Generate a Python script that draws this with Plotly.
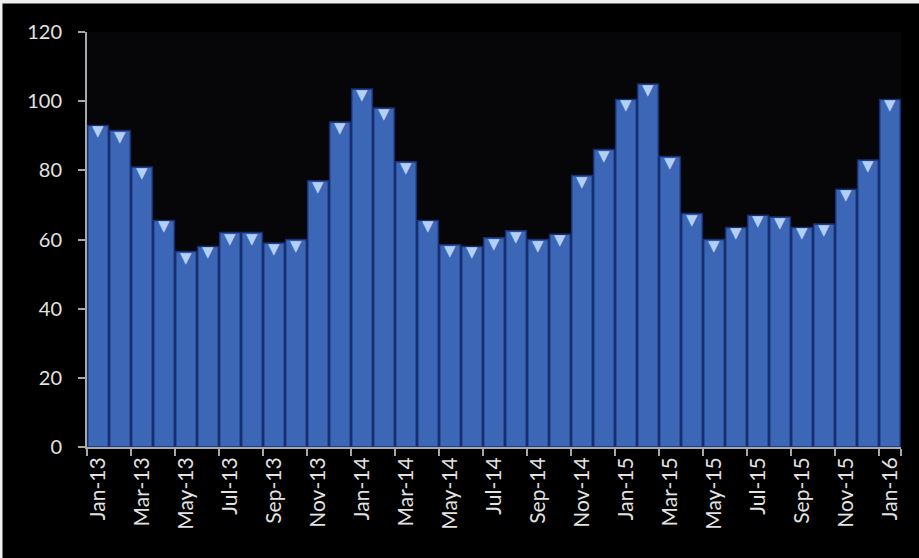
import plotly.graph_objects as go

months = ["Jan-13","Feb-13","Mar-13","Apr-13","May-13","Jun-13","Jul-13","Aug-13","Sep-13","Oct-13","Nov-13","Dec-13",
          "Jan-14","Feb-14","Mar-14","Apr-14","May-14","Jun-14","Jul-14","Aug-14","Sep-14","Oct-14","Nov-14","Dec-14",
          "Jan-15","Feb-15","Mar-15","Apr-15","May-15","Jun-15","Jul-15","Aug-15","Sep-15","Oct-15","Nov-15","Dec-15",
          "Jan-16"]
values = [93, 91.5, 81, 65.5, 56.5, 58, 62, 62, 59, 60, 77, 94,
          103.5, 98, 82.5, 65.5, 58.5, 58, 60.5, 62.5, 60, 61.5, 78.5, 86,
          100.5, 105, 84, 67.5, 60, 63.5, 67, 66.5, 63.5, 64.5, 74.5, 83,
          100.5]
y_ticks = [0, 20, 40, 60, 80, 100, 120]

FONT = "Lato, 'Open Sans', 'DejaVu Sans', sans-serif"
TXT = "#e2e2e2"
AX = "#a8a8a8"

fig = go.Figure()
fig.add_trace(go.Bar(
    x=months, y=values,
    marker=dict(color="#3c66b6", line=dict(color="#172f72", width=1.5)),
    hoverinfo="x+y",
))

# bevel highlight at the top of each bar
annotations = [
    dict(x=m, y=v, xref="x", yref="y", text="▼", showarrow=False,
         yanchor="top", yshift=4, borderpad=0,
         font=dict(family="DejaVu Sans", size=15, color="#b3cff4"))
    for m, v in zip(months, values)
]

fig.update_layout(
    width=919, height=558,
    margin=dict(l=87, r=18, t=32, b=111, pad=0),
    paper_bgcolor="#000000",
    plot_bgcolor="#060609",
    bargap=0.06,
    showlegend=False,
    font=dict(family=FONT, color=TXT, size=20),
    annotations=annotations,
    xaxis=dict(
        type="category",
        tickmode="array",
        tickvals=months[::2],
        ticktext=months[::2],
        tickangle=-90,
        ticks="outside", ticklen=7, tickcolor=AX, tickwidth=1.5,
        tickson="boundaries",
        showline=True, linecolor=AX, linewidth=2,
        showgrid=False, zeroline=False,
        tickfont=dict(family=FONT, color=TXT, size=21),
    ),
    yaxis=dict(
        range=[0, 120],
        tickvals=y_ticks,
        ticks="outside", ticklen=7, tickcolor=AX, tickwidth=1.5,
        showline=True, linecolor=AX, linewidth=2,
        showgrid=False, zeroline=False,
        tickfont=dict(family=FONT, color=TXT, size=20),
        ticklabelstandoff=12,
    ),
    shapes=[
        dict(type="line", xref="paper", yref="paper",
             x0=-87/814, x1=1 + 18/814, y0=1 + 30.5/415, y1=1 + 30.5/415,
             line=dict(color="#f0f0f0", width=4)),
        dict(type="line", xref="paper", yref="paper",
             x0=-86/814, x1=-86/814, y0=-111/415, y1=1 + 32/415,
             line=dict(color="#f0f0f0", width=3)),
    ],
)

fig.write_html(
    "out.html",
    config={"displayModeBar": False},
    post_script="document.body.style.margin='0';document.body.style.background='#000';",
)
